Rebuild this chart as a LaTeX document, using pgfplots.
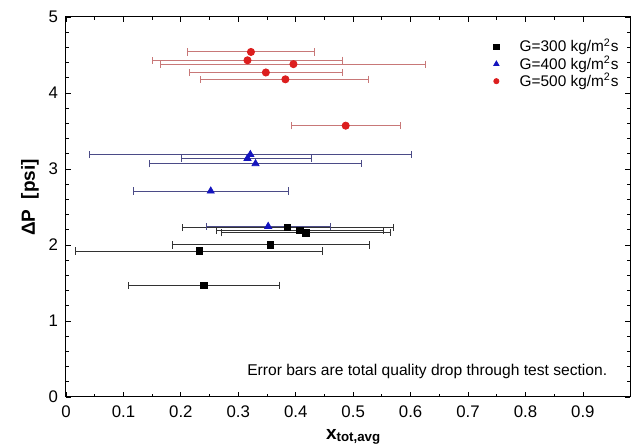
\documentclass[border=0pt]{standalone}
\usepackage{pgfplots}
\pgfplotsset{compat=1.18}
\usepackage{fontspec}
\setmainfont{Liberation Sans}
\definecolor{rmk}{RGB}{220,30,30}
\definecolor{rbar}{RGB}{200,120,120}
\definecolor{bmk}{RGB}{20,20,190}
\definecolor{bbar}{RGB}{75,75,135}
\definecolor{kbar}{RGB}{50,50,50}
\begin{document}
\begin{tikzpicture}
\begin{axis}[
  scale only axis, width=282pt, height=190pt,
  xmin=0, xmax=0.982, ymin=0, ymax=5,
  xtick={0,0.1,...,0.9}, ytick={0,1,...,5},
  minor x tick num=1, minor y tick num=4,
  tick align=inside, major tick length=2.5pt, minor tick length=1.5pt,
  tick style={black, line width=0.4pt},
  axis line style={line width=0.5pt},
  /pgf/number format/assume math mode=true,
  /pgf/number format/fixed,
  ticklabel style={font=\fontsize{8.4}{9}\selectfont},
  xticklabel style={yshift=-1pt},
  yticklabel style={xshift=-0.5pt},
  xlabel={\textbf{x\textsubscript{tot,avg}}},
  ylabel={\textbf{ΔP\ \ [psi]}},
  xlabel style={font=\fontsize{9.5}{11}\selectfont, at={(axis description cs:0.51,-0.105)}, anchor=center},
  ylabel style={font=\fontsize{9.5}{11}\selectfont, at={(axis description cs:-0.064,0.525)}, anchor=center},
  legend style={draw=none, fill=none, at={(axis description cs:0.748,0.957)}, anchor=north west,
    font=\fontsize{7.7}{7.7}\selectfont, row sep=-2.5pt, inner sep=1pt,
    nodes={inner sep=1.5pt}},
  legend cell align=left,
  legend image code/.code={\draw[#1] plot coordinates {(0.1cm,0cm)}; \path (0cm,0cm) (0.45cm,0cm);},
  error bars/error bar style={line width=0.5pt},
  error bars/error mark=|,
  error bars/error mark options={mark size=1.8pt, line width=0.5pt},
]
\addlegendimage{only marks, mark=square*, mark size=1.3pt, black}
\addlegendentry{G=300 kg/m\textsuperscript{2}s}
\addlegendimage{only marks, mark=triangle*, mark size=1.5pt, bmk}
\addlegendentry{G=400 kg/m\textsuperscript{2}s}
\addlegendimage{only marks, mark=*, mark size=1.3pt, rmk}
\addlegendentry{G=500 kg/m\textsuperscript{2}s}

% G=300
\addplot[forget plot, only marks, mark=square*, mark size=1.6pt, black,
  error bars/.cd, x dir=both, x explicit, error bar style={color=kbar}, error mark options={color=kbar, mark size=1.8pt}]
  table[x=x, y=y, x error plus=ep, x error minus=em] {
x      y     em     ep
0.386  2.23  0.184  0.184
0.407  2.19  0.146  0.146
0.418  2.16  0.148  0.147
0.356  2.00  0.171  0.172
0.232  1.92  0.215  0.215
0.240  1.47  0.131  0.132
};
% G=400
\addplot[forget plot, only marks, mark=triangle*, mark size=2pt, bmk,
  error bars/.cd, x dir=both, x explicit, error bar style={color=bbar}, error mark options={color=bbar, mark size=1.8pt}]
  table[x=x, y=y, x error plus=ep, x error minus=em] {
x      y      em     ep
0.321  3.19   0.281  0.281
0.316  3.14   0.115  0.112
0.330  3.07   0.185  0.184
0.252  2.71   0.134  0.135
0.352  2.245  0.108  0.108
};
% G=500
\addplot[forget plot, only marks, mark=*, mark size=1.8pt, rmk,
  error bars/.cd, x dir=both, x explicit, error bar style={color=rbar}, error mark options={color=rbar, mark size=1.8pt}]
  table[x=x, y=y, x error plus=ep, x error minus=em] {
x      y     em     ep
0.322  4.54  0.110  0.110
0.316  4.43  0.166  0.165
0.396  4.38  0.232  0.229
0.348  4.27  0.133  0.133
0.382  4.18  0.148  0.145
0.487  3.57  0.094  0.095
};
\node[anchor=east, font=\fontsize{7.8}{9}\selectfont] at (axis description cs:0.972,0.068)
  {Error bars are total quality drop through test section.};
\end{axis}
\pgfresetboundingbox
\path ([xshift=-33pt,yshift=-25pt]current axis.south west) rectangle ([xshift=2pt,yshift=8.5pt]current axis.north east);
\end{tikzpicture}
\end{document}
